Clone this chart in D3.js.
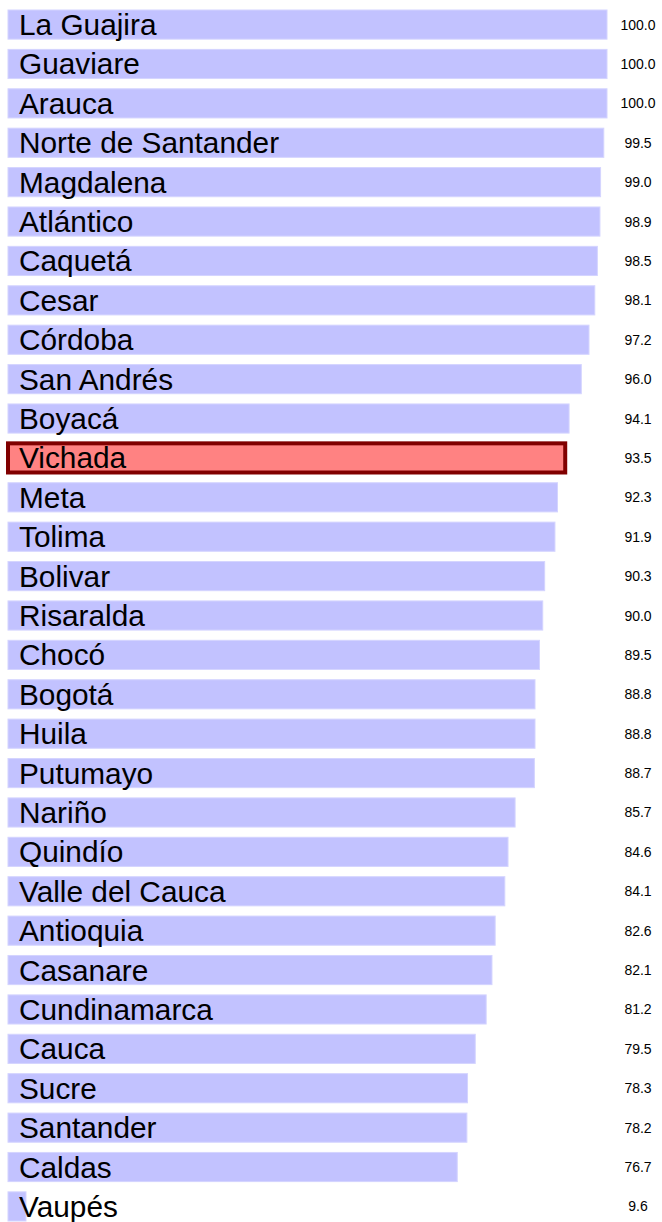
<!DOCTYPE html>
<html>
<head>
<meta charset="utf-8">
<script src="https://cdn.jsdelivr.net/npm/d3@7"></script>
<style>
  body { margin: 0; background: #fff; }
  svg { display: block; font-family: "Liberation Sans", Arial, sans-serif; }
</style>
</head>
<body>
<div id="chart"></div>
<script>
    // departments, sorted as in the picture
    const departments = ['La Guajira', 'Guaviare', 'Arauca', 'Norte de Santander', 'Magdalena', 'Atlántico',
        'Caquetá', 'Cesar', 'Córdoba', 'San Andrés', 'Boyacá', 'Vichada', 'Meta', 'Tolima', 'Bolivar',
        'Risaralda', 'Chocó', 'Bogotá', 'Huila', 'Putumayo', 'Nariño', 'Quindío', 'Valle del Cauca',
        'Antioquia', 'Casanare', 'Cundinamarca', 'Cauca', 'Sucre', 'Santander', 'Caldas', 'Vaupés'];
    const values = [100.0, 100.0, 100.0, 99.5, 99.0, 98.9, 98.5, 98.1, 97.2, 96.0, 94.1, 93.5, 92.3, 91.9, 90.3,
        90.0, 89.5, 88.8, 88.8, 88.7, 85.7, 84.6, 84.1, 82.6, 82.1, 81.2, 79.5, 78.3, 78.2, 76.7, 9.6];
    const highlighted = ['Vichada'];
    const xDomain = [6.8, 100];

    const width = 662;
    const height = 1222;

    const data = departments.map((d, i) => ({ name: d, value: values[i] }));

    const svg = d3.select('#chart')
        .append('svg')
        .attr('width', width)
        .attr('height', height);

    const x = d3.scaleLinear().domain(xDomain).range([8, 607]);
    const y = d3.scaleBand().domain(departments).range([10, 1221]).paddingInner(0.26);

    const rows = svg.selectAll('g.row')
        .data(data)
        .join('g')
        .attr('class', 'row');

    rows.append('rect')
        .attr('x', x(xDomain[0]))
        .attr('y', d => y(d.name))
        .attr('width', d => x(d.value) - x(xDomain[0]))
        .attr('height', y.bandwidth())
        .attr('fill', d => highlighted.includes(d.name) ? '#ff8282' : '#c2c2ff')
        .attr('stroke', d => highlighted.includes(d.name) ? '#800000' : '#d4d4ff')
        .attr('stroke-width', d => highlighted.includes(d.name) ? 4 : 1);

    // department name inside the bar
    rows.append('text')
        .attr('x', 19)
        .attr('y', d => y(d.name) + y.bandwidth() / 2 + 10.5)
        .attr('font-size', 29.8)
        .attr('fill', '#000')
        .text(d => d.name);

    // value at the right
    rows.append('text')
        .attr('x', 638)
        .attr('y', d => y(d.name) + y.bandwidth() / 2 + 5)
        .attr('text-anchor', 'middle')
        .attr('font-size', 14)
        .attr('fill', '#000')
        .text(d => d.value.toFixed(1));
</script>
</body>
</html>
